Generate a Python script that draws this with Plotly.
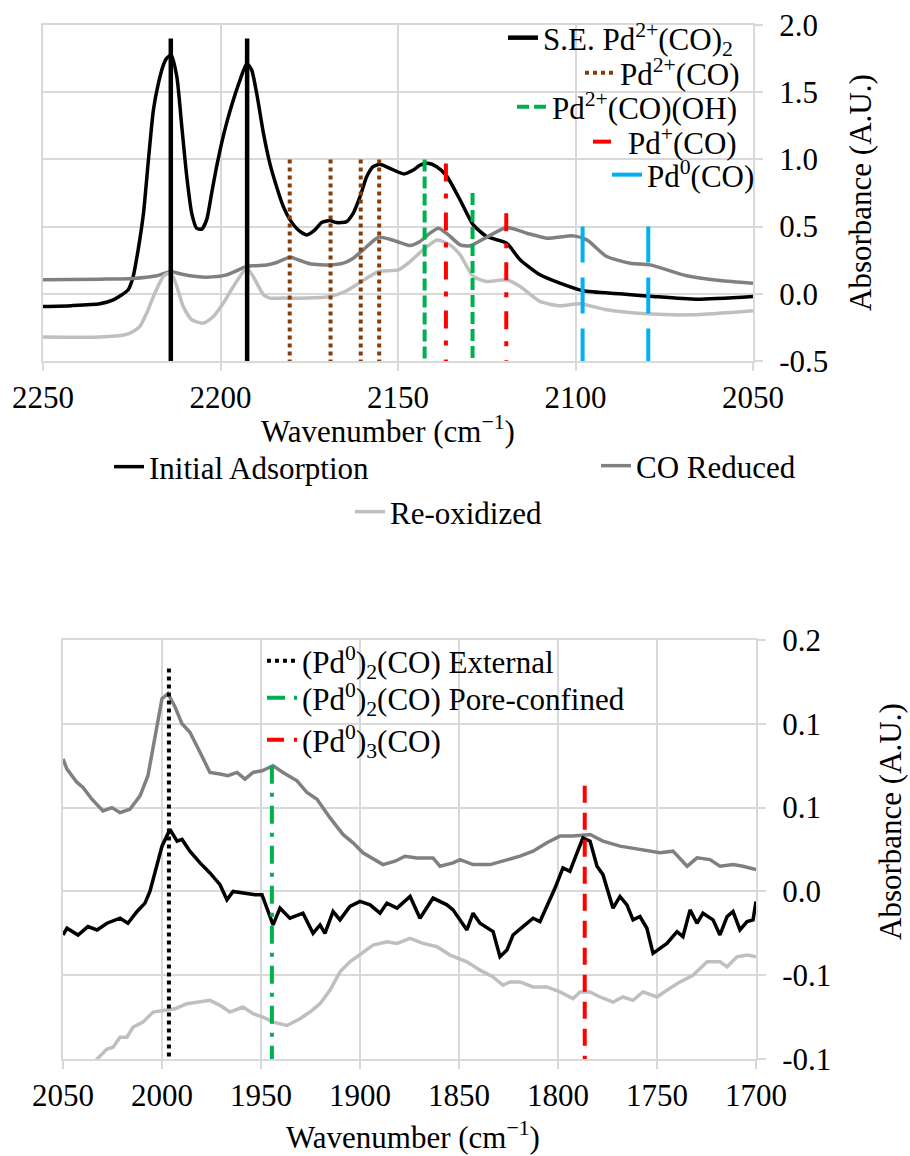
import plotly.graph_objects as go

W, H = 910, 1156
FONT = "Liberation Serif"
FS = 31

# ---------------- top panel spectra ----------------
TOP_WN_INITIAL = [2250, 2242, 2234, 2230.2, 2226, 2224.6, 2223.2, 2221.7, 2220.3, 2218.9, 2217.5, 2216.1, 2215.2,
                  2213.9, 2212.3, 2210.9, 2209.5, 2208.1, 2206.7, 2205.3, 2203.9, 2202.5, 2201.1, 2199.7, 2198.3,
                  2196.4, 2194.5, 2192.6, 2191.2, 2189.8, 2187.9, 2186.1, 2184.2, 2182.3, 2180.4, 2178.1, 2175.7,
                  2173.4, 2171.5, 2169.2, 2167.3, 2164.5, 2162.6, 2160.7, 2158.8, 2157.0, 2155.1, 2152.3, 2148.3,
                  2145.7, 2143.8, 2141.5, 2139.1, 2136.3, 2132.5, 2128.8, 2125.0, 2119.4, 2115.6, 2110.0, 2104.4,
                  2097.8, 2087.5, 2078.1, 2065.9, 2050]
TOP_ABS_INITIAL = [-0.094, -0.088, -0.074, -0.045, 0.03, 0.129, 0.327, 0.599, 0.996, 1.367, 1.565, 1.701, 1.751,
                   1.776, 1.615, 1.243, 0.872, 0.599, 0.488, 0.481, 0.55, 0.748, 0.946, 1.12, 1.268,
                   1.441, 1.59, 1.714, 1.664, 1.49, 1.194, 0.971, 0.797, 0.649, 0.55, 0.475, 0.438,
                   0.475, 0.53, 0.545, 0.53, 0.537, 0.6, 0.723, 0.872, 0.946, 0.964, 0.934, 0.892,
                   0.921, 0.958, 0.971, 0.946, 0.878, 0.698, 0.513, 0.426, 0.377, 0.253, 0.141, 0.079,
                   0.022, 0.0, -0.02, -0.04, -0.02]

TOP_WN_REDUCED = [2250, 2234, 2224.6, 2218, 2214, 2211.4, 2208.6, 2203.9, 2198.3, 2192.6, 2187, 2184.2, 2180.4,
                  2177.6, 2174.8, 2169.2, 2165.4, 2162.6, 2159.8, 2155.5, 2152.3, 2149.4, 2146.6, 2143.8, 2141,
                  2138.6, 2135.8, 2132.5, 2129.7, 2125, 2119.4, 2113.7, 2108.1, 2100.6, 2096.8, 2091.2, 2084.6,
                  2079, 2068.7, 2059.3, 2050]
TOP_ABS_REDUCED = [0.104, 0.109, 0.114, 0.134, 0.166, 0.149, 0.134, 0.124, 0.141, 0.203, 0.215, 0.233, 0.272,
                   0.248, 0.223, 0.215, 0.228, 0.265, 0.327, 0.421, 0.406, 0.381, 0.359, 0.389, 0.451,
                   0.488, 0.438, 0.364, 0.357, 0.421, 0.493, 0.451, 0.414, 0.431, 0.401, 0.277, 0.228,
                   0.215, 0.134, 0.099, 0.079]

TOP_WN_REOX = [2250, 2234, 2226.9, 2224.6, 2222.7, 2220.8, 2218.5, 2216.1, 2214, 2212.3, 2210.5, 2208.1, 2204.8,
               2202, 2199.2, 2196.4, 2192.6, 2190.8, 2187.9, 2186.1, 2182.3, 2175.5, 2169.2, 2164.9, 2160.7,
               2155.5, 2149.9, 2146.6, 2142.4, 2138.9, 2135.4, 2132.5, 2128.8, 2125, 2119.4, 2115.6, 2110,
               2104.4, 2098.7, 2091.2, 2080, 2066.8, 2050]
TOP_ABS_REOX = [-0.322, -0.322, -0.305, -0.28, -0.243, -0.144, 0.005, 0.129, 0.158, 0.054, -0.094, -0.193, -0.218,
                -0.169, -0.069, 0.054, 0.191, 0.129, -0.007, -0.032, -0.032, -0.032, -0.02, 0.017, 0.084,
                0.166, 0.178, 0.24, 0.339, 0.401, 0.364, 0.29, 0.129, 0.092, 0.104, 0.054, -0.057,
                -0.089, -0.074, -0.119, -0.149, -0.156, -0.126]

# ---------------- top panel band assignments ----------------
TOP_BASE = -0.5
SE_POS = [2214, 2192.5]
SE_TOP = [1.9, 1.9]
PD2CO_POS = [2180.5, 2169, 2160.5, 2155.3]
PD2CO_TOP = [1.0, 1.0, 1.0, 1.0]
PD2COOH_POS = [2142.5, 2129]
PD2COOH_TOP = [1.0, 0.75]
PD1CO_POS = [2136.5, 2119.5]
PD1CO_TOP = [0.97, 0.6]
PD0CO_POS = [2098, 2079.5]
PD0CO_TOP = [0.5, 0.5]

# ---------------- bottom panel spectra ----------------
BOT_WN_INITIAL = [2050, 2048, 2042.4, 2037.4, 2032.8, 2027.8, 2021.2, 2017.2, 2012.6, 2008.6,
                  2006.1, 2003.5, 2000, 1996, 1992.4, 1989.9, 1985.9, 1980.8, 1975.8, 1970.7,
                  1967.2, 1964.1, 1959.1, 1953, 1949.5, 1946.5, 1943.9, 1940.4, 1935.4, 1928.8,
                  1923.7, 1920.2, 1917.7, 1913.6, 1910.1, 1905.1, 1900, 1894.9, 1889.9, 1886.4,
                  1881.3, 1874.7, 1869.7, 1863.1, 1856.1, 1853, 1846, 1842.9, 1839.4, 1832.8,
                  1829.3, 1825.8, 1822.7, 1817.7, 1812.6, 1809.1, 1805.6, 1801.5, 1797.5, 1794,
                  1790.4, 1787.4, 1783.8, 1780.3, 1777.3, 1772.2, 1768.7, 1765.2, 1762.1, 1758.6,
                  1755.1, 1752, 1748.5, 1745, 1739.9, 1736.9, 1733.3, 1729.8, 1726.8, 1721.7,
                  1718.2, 1714.6, 1711.6, 1708.1, 1704.5, 1701.5, 1700]
BOT_ABS_INITIAL = [-0.026, -0.022, -0.026, -0.021, -0.023, -0.019, -0.016, -0.019, -0.012, -0.007,
                   0.0, 0.011, 0.027, 0.037, 0.03, 0.031, 0.024, 0.017, 0.011, 0.004,
                   -0.005, 0.0, -0.001, -0.002, -0.002, -0.011, -0.02, -0.01, -0.016, -0.013,
                   -0.025, -0.02, -0.025, -0.012, -0.017, -0.009, -0.006, -0.008, -0.013, -0.007,
                   -0.01, -0.003, -0.016, -0.004, -0.008, -0.011, -0.023, -0.013, -0.019, -0.024,
                   -0.039, -0.035, -0.026, -0.021, -0.016, -0.018, -0.009, 0.002, 0.014, 0.012,
                   0.023, 0.032, 0.03, 0.015, 0.01, -0.01, -0.003, -0.008, -0.017, -0.015,
                   -0.022, -0.037, -0.034, -0.031, -0.024, -0.027, -0.011, -0.019, -0.013, -0.017,
                   -0.026, -0.015, -0.012, -0.023, -0.018, -0.017, -0.006]

BOT_WN_REDUCED = [2050, 2048, 2042.9, 2039.9, 2035.4, 2029.8, 2025.3, 2021.2, 2016.2, 2011.1,
                  2007.1, 2003.5, 2000, 1997, 1993.4, 1989.9, 1985.9, 1980.8, 1975.8, 1970.7,
                  1966.7, 1962.1, 1958.1, 1954, 1949.5, 1943.9, 1938.9, 1931.8, 1926.8, 1921.7,
                  1915.2, 1908.6, 1903.5, 1898.5, 1892.4, 1888.4, 1882.3, 1877.3, 1871.2, 1863.1,
                  1859.6, 1853, 1849.5, 1842.9, 1834.3, 1827.8, 1819.2, 1812.6, 1805.6, 1799,
                  1792.4, 1783.8, 1777.3, 1768.7, 1758.6, 1748.5, 1741.9, 1734.8, 1729.8, 1723.2,
                  1718.2, 1711.6, 1706.6, 1700]
BOT_ABS_REDUCED = [0.079, 0.073, 0.065, 0.062, 0.055, 0.048, 0.05, 0.047, 0.049, 0.057,
                   0.069, 0.091, 0.115, 0.118, 0.11, 0.1, 0.095, 0.083, 0.071, 0.07,
                   0.069, 0.071, 0.067, 0.071, 0.072, 0.075, 0.071, 0.066, 0.059, 0.055,
                   0.044, 0.034, 0.029, 0.023, 0.019, 0.016, 0.018, 0.021, 0.02, 0.02,
                   0.015, 0.017, 0.019, 0.016, 0.016, 0.018, 0.021, 0.024, 0.029, 0.033,
                   0.033, 0.034, 0.03, 0.027, 0.025, 0.023, 0.024, 0.015, 0.02, 0.019,
                   0.015, 0.016, 0.015, 0.013]

BOT_WN_REOX = [2050, 2041.4, 2032.8, 2027.8, 2024.7, 2021.2, 2017.7, 2014.6, 2009.6, 2004.5,
               1999.5, 1993.4, 1987.4, 1980.8, 1975.8, 1970.7, 1965.7, 1959.1, 1954, 1949,
               1943.9, 1936.9, 1930.3, 1925.3, 1920.2, 1915.2, 1910.1, 1905.1, 1898.5, 1893.4,
               1886.4, 1881.3, 1874.7, 1868.2, 1861.1, 1854.5, 1846, 1839.4, 1832.8, 1827.8,
               1824.3, 1819.2, 1812.6, 1805.6, 1799, 1792.4, 1788.9, 1783.8, 1778.8, 1772.2,
               1767.2, 1762.1, 1757.1, 1750, 1745, 1738.4, 1731.8, 1724.7, 1718.2, 1714.6,
               1709.6, 1704.5, 1700]
BOT_ABS_REOX = [-0.13, -0.115, -0.1, -0.094, -0.093, -0.087, -0.087, -0.081, -0.078, -0.072,
                -0.071, -0.07, -0.067, -0.066, -0.065, -0.068, -0.072, -0.069, -0.073, -0.075,
                -0.078, -0.08, -0.076, -0.072, -0.067, -0.059, -0.048, -0.042, -0.036, -0.032,
                -0.03, -0.031, -0.028, -0.031, -0.033, -0.038, -0.042, -0.047, -0.051, -0.056,
                -0.054, -0.054, -0.057, -0.057, -0.06, -0.064, -0.06, -0.06, -0.063, -0.066,
                -0.063, -0.065, -0.06, -0.063, -0.059, -0.054, -0.05, -0.042, -0.042, -0.045,
                -0.039, -0.038, -0.039]

# ---------------- bottom panel band assignments ----------------
BOT_BASE = -0.1
EXT_POS = [1996.5]
EXT_TOP = [0.133]
PORE_POS = [1944.5]
PORE_TOP = [0.075]
PD3_POS = [1786.5]
PD3_TOP = [0.063]

# ticks
TOP_XTICKS = [2250, 2200, 2150, 2100, 2050]
TOP_YTICKS = [-0.5, 0.0, 0.5, 1.0, 1.5, 2.0]
TOP_YTEXT = ["-0.5", "0.0", "0.5", "1.0", "1.5", "2.0"]
BOT_XTICKS = [2050, 2000, 1950, 1900, 1850, 1800, 1750, 1700]
BOT_YTICKS = [-0.1, -0.05, 0.0, 0.05, 0.1, 0.15]
BOT_YTEXT = ["-0.1", "-0.1", "0.0", "0.1", "0.1", "0.2"]

# colours
C_INIT = "#000000"
C_RED = "#808080"
C_REOX = "#BFBFBF"
C_BROWN = "#843C0C"
C_GREEN = "#00B050"
C_RED2 = "#FF0000"
C_BLUE = "#00B0F0"
GRID = "#D9D9D9"


def vlines(pos, tops, base):
    # drawn from the top down so the dash pattern starts at the upper end
    xs, ys = [], []
    for p, t in zip(pos, tops):
        xs += [p, p, None]
        ys += [t, base, None]
    return xs, ys


fig = go.Figure()

# spectra, top panel
fig.add_trace(go.Scatter(x=TOP_WN_INITIAL, y=TOP_ABS_INITIAL, mode="lines", name="Initial Adsorption",
                         line=dict(color=C_INIT, width=3.5, shape="spline", smoothing=0.6),
                         xaxis="x", yaxis="y", legend="legend6"))
fig.add_trace(go.Scatter(x=TOP_WN_REDUCED, y=TOP_ABS_REDUCED, mode="lines", name="CO Reduced",
                         line=dict(color=C_RED, width=3.5, shape="spline", smoothing=0.6),
                         xaxis="x", yaxis="y", legend="legend7"))
fig.add_trace(go.Scatter(x=TOP_WN_REOX, y=TOP_ABS_REOX, mode="lines", name="Re-oxidized",
                         line=dict(color=C_REOX, width=3.5, shape="spline", smoothing=0.6),
                         xaxis="x", yaxis="y", legend="legend8"))

# band lines, top panel
top_groups = [
    ("S.E. Pd<sup>2+</sup>(CO)<sub>2</sub>", SE_POS, SE_TOP, C_INIT, "solid", 4.5, "legend"),
    ("Pd<sup>2+</sup>(CO)", PD2CO_POS, PD2CO_TOP, C_BROWN, "4px,4px", 4, "legend2"),
    ("Pd<sup>2+</sup>(CO)(OH)", PD2COOH_POS, PD2COOH_TOP, C_GREEN, "12px,5px", 4, "legend3"),
    ("Pd<sup>+</sup>(CO)", PD1CO_POS, PD1CO_TOP, C_RED2, "18px,12px,5px,14px", 4, "legend4"),
    ("Pd<sup>0</sup>(CO)", PD0CO_POS, PD0CO_TOP, C_BLUE, "36px,15px", 4, "legend5"),
]
for name, pos, tops, col, dash, wd, lg in top_groups:
    xs, ys = vlines(pos, tops, TOP_BASE)
    fig.add_trace(go.Scatter(x=xs, y=ys, mode="lines", name=name,
                             line=dict(color=col, width=wd, dash=dash),
                             xaxis="x", yaxis="y", legend=lg))

# spectra, bottom panel
fig.add_trace(go.Scatter(x=BOT_WN_REOX, y=BOT_ABS_REOX, mode="lines", name="Re-oxidized",
                         line=dict(color=C_REOX, width=3.5), xaxis="x2", yaxis="y2", showlegend=False))
fig.add_trace(go.Scatter(x=BOT_WN_REDUCED, y=BOT_ABS_REDUCED, mode="lines", name="CO Reduced",
                         line=dict(color=C_RED, width=3.5), xaxis="x2", yaxis="y2", showlegend=False))
fig.add_trace(go.Scatter(x=BOT_WN_INITIAL, y=BOT_ABS_INITIAL, mode="lines", name="Initial Adsorption",
                         line=dict(color=C_INIT, width=3.5), xaxis="x2", yaxis="y2", showlegend=False))

bot_groups = [
    ("(Pd<sup>0</sup>)<sub>2</sub>(CO) External", EXT_POS, EXT_TOP, C_INIT, "4px,4px", 4, "legend9"),
    ("(Pd<sup>0</sup>)<sub>2</sub>(CO) Pore-confined", PORE_POS, PORE_TOP, C_GREEN, "18px,9px,4px,9px", 4, "legend10"),
    ("(Pd<sup>0</sup>)<sub>3</sub>(CO)", PD3_POS, PD3_TOP, C_RED2, "17px,10px", 4, "legend11"),
]
for name, pos, tops, col, dash, wd, lg in bot_groups:
    xs, ys = vlines(pos, tops, BOT_BASE)
    fig.add_trace(go.Scatter(x=xs, y=ys, mode="lines", name=name,
                             line=dict(color=col, width=wd, dash=dash),
                             xaxis="x2", yaxis="y2", legend=lg))

axis_common = dict(showgrid=True, gridcolor=GRID, gridwidth=2, showline=True, linecolor=GRID, linewidth=2,
                   mirror=True, ticks="outside", ticklen=8, tickwidth=2, tickcolor=GRID, zeroline=False,
                   automargin=False, tickfont=dict(family=FONT, size=FS, color="black"))


def legbox(text_left_px, center_px):
    return dict(x=(text_left_px - 40) / W, y=1 - center_px / H, xanchor="left", yanchor="middle",
                bgcolor="rgba(0,0,0,0)", borderwidth=0, orientation="v",
                font=dict(family=FONT, size=FS, color="black"))


layout = dict(
    width=W, height=H, autosize=False,
    margin=dict(l=0, r=0, t=0, b=0, pad=0, autoexpand=False),
    paper_bgcolor="white", plot_bgcolor="white",
    font=dict(family=FONT, size=FS, color="black"),
    xaxis=dict(domain=[43 / W, 753 / W], range=[2250, 2050], tickvals=TOP_XTICKS, anchor="y", **axis_common),
    yaxis=dict(domain=[1 - 361 / H, 1 - 25 / H], range=[-0.5, 2.0], tickvals=TOP_YTICKS, ticktext=TOP_YTEXT,
               side="right", anchor="x", ticklabelstandoff=10, **axis_common),
    xaxis2=dict(domain=[63 / W, 756 / W], range=[2050, 1700], tickvals=BOT_XTICKS, anchor="y2", **axis_common),
    yaxis2=dict(domain=[1 - 1059 / H, 1 - 640 / H], range=[-0.1, 0.15], tickvals=BOT_YTICKS, ticktext=BOT_YTEXT,
                side="right", anchor="x2", ticklabelstandoff=10, **axis_common),
    legend=legbox(543, 38),
    legend2=legbox(620, 73),
    legend3=legbox(552, 107),
    legend4=legbox(628, 142),
    legend5=legbox(647, 175),
    legend6=legbox(149, 467),
    legend7=legbox(636, 466),
    legend8=legbox(390, 512),
    legend9=legbox(302, 661),
    legend10=legbox(302, 698),
    legend11=legbox(302, 740),
    annotations=[
        dict(text="Wavenumber (cm<sup>\u22121</sup>)", x=388 / W, y=1 - 429 / H, xref="paper", yref="paper",
             showarrow=False, xanchor="center", yanchor="middle", font=dict(family=FONT, size=FS)),
        dict(text="Absorbance (A.U.)", x=860 / W, y=1 - 193 / H, xref="paper", yref="paper", textangle=-90,
             showarrow=False, xanchor="center", yanchor="middle", font=dict(family=FONT, size=FS)),
        dict(text="Wavenumber (cm<sup>\u22121</sup>)", x=413 / W, y=1 - 1135 / H, xref="paper", yref="paper",
             showarrow=False, xanchor="center", yanchor="middle", font=dict(family=FONT, size=FS)),
        dict(text="Absorbance (A.U.)", x=890 / W, y=1 - 822 / H, xref="paper", yref="paper", textangle=-90,
             showarrow=False, xanchor="center", yanchor="middle", font=dict(family=FONT, size=FS)),
    ],
)
fig.update_layout(**layout)

fig.write_html("out.html", config={"displayModeBar": False},
               post_script="document.body.style.margin='0';")
